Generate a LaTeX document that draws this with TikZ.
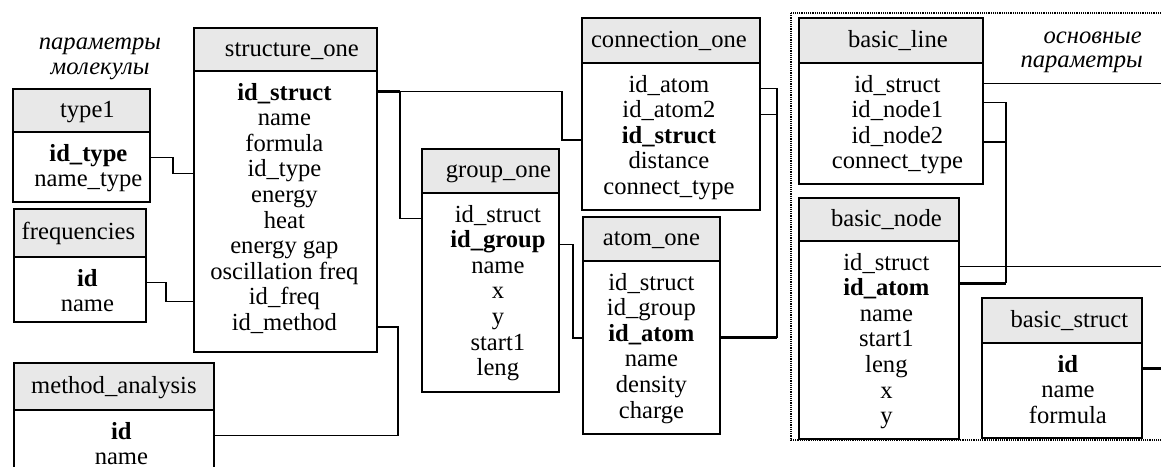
\documentclass[tikz,border=0pt]{standalone}
\usepackage{fontspec}
\setmainfont{Liberation Serif}
\usetikzlibrary{positioning,calc}
\newcommand{\dbfont}{\fontsize{24.6}{26}\selectfont}
\tikzset{
  tblhead/.style={draw, line width=1.8pt, fill=black!9, inner sep=0pt},
  tblbody/.style={draw, line width=1.8pt, fill=white, inner sep=0pt},
  tbltext/.style={font=\dbfont, inner sep=0pt, anchor=base},
  tblrow/.style={font=\dbfont, inner sep=0pt, text height=0.75em, text depth=0.1em, anchor=base},
  link/.style={line width=1.4pt},
  keylink/.style={line width=3pt},
  note/.style={font=\dbfont\itshape, inner sep=0pt, anchor=base},
  frame/.style={densely dotted, line width=1.2pt}
}
% table: name, x1, y1, x2, y of header bottom, y bottom, title, title shift
\newcommand{\dbtable}[8]{%
  \node[tblhead, anchor=north west, minimum width={(#4-#2)*1pt}, minimum height={(#5-#3)*1pt}] (#1-h) at (#2,#3) {};
  \node[tbltext] (#1-t) at ([xshift=#8pt, yshift=-7pt]#1-h.center) {#7};
  \node[tblbody, anchor=north west, minimum width={(#4-#2)*1pt}, minimum height={(#6-#5)*1pt}] (#1) at (#2,#5) {};
}
% rows: name, shift, list of fields
\newcommand{\dbrows}[3]{%
  \foreach \rowtext [count=\rowno] in {#3} {
    \pgfmathsetmacro\rowy{30+(\rowno-1)*25.6}
    \node[tblrow] (#1-\rowno) at ([xshift=#2pt, yshift=-\rowy pt]#1.north) {\rowtext};
  }
}

\begin{document}
\begin{tikzpicture}[x=1pt, y=-1pt]
  \useasboundingbox (0,0) rectangle (1161,466);
  \clip (0,0) rectangle (1161,466);

  \draw[frame] (791,13) rectangle (1175,440);

  \node[note] (molnote1) at (100,49) {параметры};
  \node[note] (molnote2) at (100,74) {молекулы};
  \node[note, anchor=base east] (basnote1) at (1142,43) {основные};
  \node[note, anchor=base east] (basnote2) at (1143,67) {параметры};

  % tables
  \dbtable{type1}{12}{88}{149}{131}{201}{type1}{6}
  \dbrows{type1}{7}{\textbf{id\_type}, name\_type}
  \dbtable{freq}{13}{208}{145}{256}{321}{frequencies}{-1.5}
  \dbrows{freq}{7.5}{\textbf{id}, name}
  \dbtable{struct}{193}{27}{376}{70}{351}{structure\_one}{6.5}
  \dbrows{struct}{-1}{\textbf{id\_struct}, name, formula, id\_type, energy, heat, energy gap, oscillation freq, id\_freq, id\_method}
  \dbtable{method}{13}{362}{213}{409}{490}{method\_analysis}{0}
  \dbrows{method}{7.5}{\textbf{id}, name}
  \dbtable{group}{421}{148}{558}{192}{391}{group\_one}{8}
  \dbrows{group}{7.5}{id\_struct, \textbf{id\_group}, name, x, y, start1, leng}
  \dbtable{conn}{581}{17}{759}{62}{209}{connection\_one}{-2}
  \dbrows{conn}{-2}{id\_atom, id\_atom2, \textbf{id\_struct}, distance, connect\_type}
  \dbtable{atom}{582}{216}{719}{260}{433}{atom\_one}{0}
  \dbrows{atom}{0}{id\_struct, id\_group, \textbf{id\_atom}, name, density, charge}
  \dbtable{bline}{798}{17}{982}{62}{183}{basic\_line}{7}
  \dbrows{bline}{6.5}{id\_struct, id\_node1, id\_node2, connect\_type}
  \dbtable{bnode}{798}{197}{958}{240}{438}{basic\_node}{7.5}
  \dbrows{bnode}{7.5}{id\_struct, \textbf{id\_atom}, name, start1, leng, x, y}
  \dbtable{bstruct}{981}{297}{1141}{342}{437}{basic\_struct}{7.5}
  \dbrows{bstruct}{6}{\textbf{id}, name, formula}

  % connectors
  \coordinate (sk) at ([yshift=5pt]struct-1.center);
  \coordinate (bl1) at ([yshift=5pt]bline-1.center);
  \coordinate (bl2) at ([yshift=12pt]bline-2.center);
  \coordinate (bl3) at ([yshift=-2pt]bline-3.center);
  \coordinate (bn2) at ([yshift=9pt]bnode-2.center);

  \draw[link] (type1.east |- type1-1) -- ++(22,0) |- (struct.west |- struct-4);
  \draw[link] (freq.east |- freq-1) -- ++(19,0) |- (struct.west |- struct-9);
  \draw[link] (struct.east |- struct-10) -- ++(20,0) |- (method.east |- method-1);
  \draw[keylink] (struct.east |- sk) -- ++(22,0) coordinate (sfork);
  \draw[link] (sfork) -- ++(162,0) |- (conn.west |- conn-3);
  \draw[link] (sfork) |- (group.west |- group-1);
  \draw[link] (group.east |- group-2) -- ++(13,0) |- (atom.west |- atom-3);
  \draw[keylink] (atom.east |- atom-3) -- ++(56,0) coordinate (afork);
  \draw[link] (afork) |- (conn.east |- conn-1);
  \draw[link] (afork |- conn-2) -- (conn.east |- conn-2);
  \draw[link] (bline.east |- bl1) -- ++(200,0);
  \draw[keylink] (bnode.east |- bn2) -- ++(46,0) coordinate (nfork);
  \draw[link] (nfork) |- (bline.east |- bl2);
  \draw[link] (nfork |- bl3) -- (bline.east |- bl3);
  \draw[link] (bnode.east |- bnode-1) -- ++(220,0);
  \draw[keylink] (bstruct.east |- bstruct-1) -- ++(40,0);
\end{tikzpicture}
\end{document}
